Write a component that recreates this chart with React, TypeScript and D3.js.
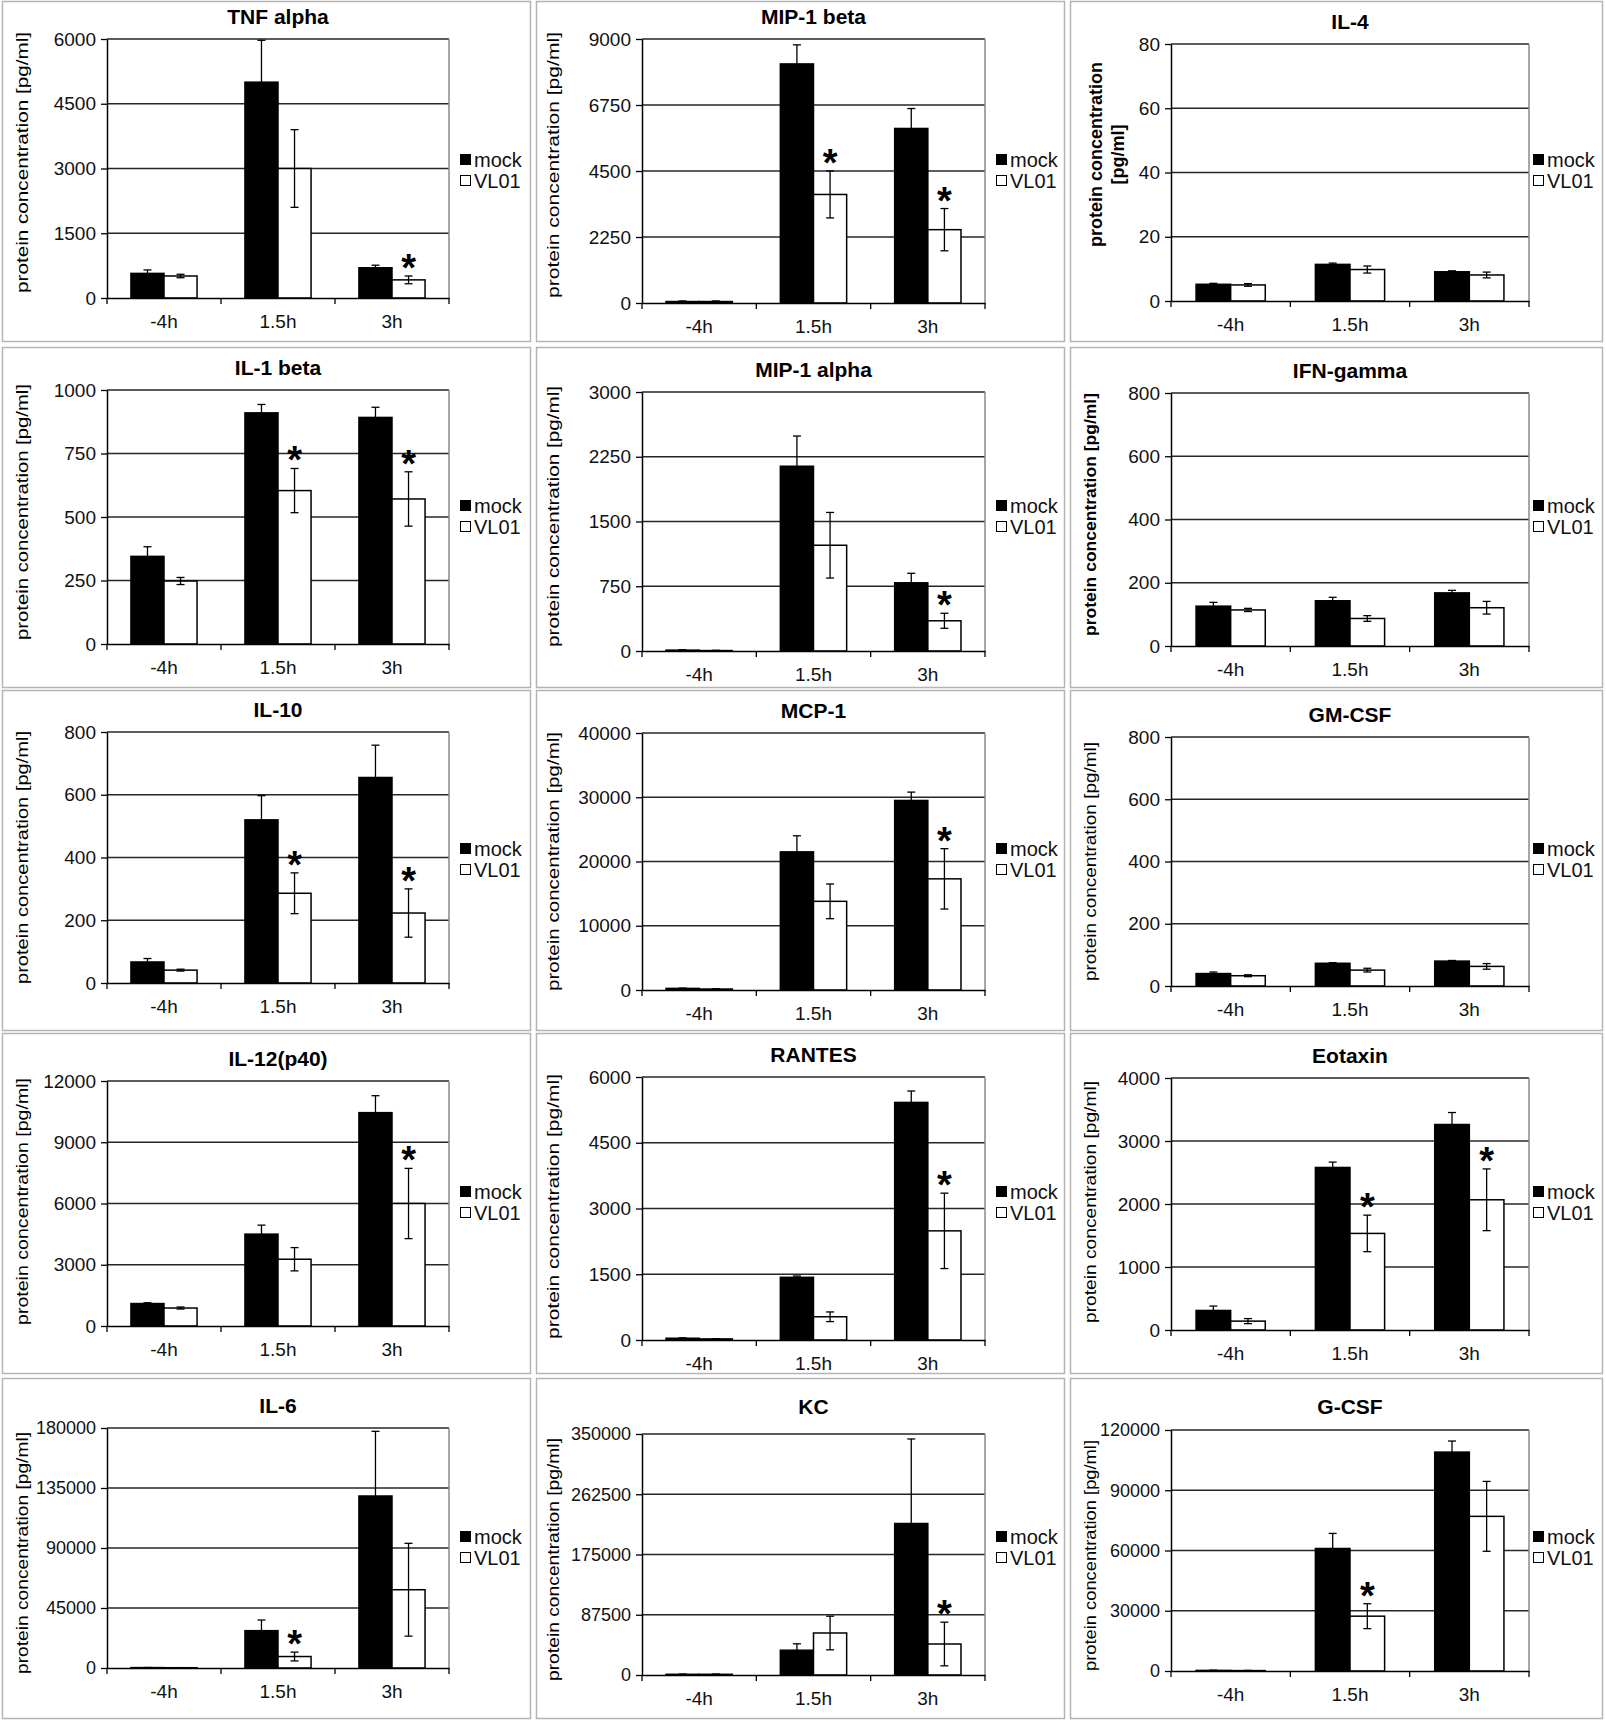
import React, { useEffect, useRef } from "react";
import * as d3 from "d3";

// chart data
const categories = ["-4h", "1.5h", "3h"];
const seriesNames = ["mock", "VL01"];

const panelTitles = [
  "TNF alpha", "MIP-1 beta", "IL-4",
  "IL-1 beta", "MIP-1 alpha", "IFN-gamma",
  "IL-10", "MCP-1", "GM-CSF",
  "IL-12(p40)", "RANTES", "Eotaxin",
  "IL-6", "KC", "G-CSF",
];
const yMaxima = [6000, 9000, 80, 1000, 3000, 800, 800, 40000, 800, 12000, 6000, 4000, 180000, 350000, 120000];
const yTickSteps = [1500, 2250, 20, 250, 750, 200, 200, 10000, 200, 3000, 1500, 1000, 45000, 87500, 30000];

const mockValues = [
  [570, 5000, 700], [50, 8150, 5950], [5.2, 11.4, 9.1],
  [345, 910, 892], [10, 2140, 790], [126, 143, 168],
  [67, 520, 655], [250, 21500, 29500], [40, 73, 80],
  [1100, 4500, 10450], [40, 1430, 5420], [310, 2580, 3262],
  [300, 28000, 129000], [1000, 36000, 220000], [300, 61000, 109000],
];
const mockErrors = [
  [80, 970, 60], [20, 650, 680], [0.3, 0.4, 0.3],
  [38, 33, 40], [5, 350, 110], [12, 11, 8],
  [11, 77, 103], [50, 2500, 1300], [5, 2, 2],
  [40, 440, 830], [10, 30, 260], [70, 85, 190],
  [100, 8000, 48500], [300, 9300, 122800], [100, 7500, 5500],
];
const vl01Values = [
  [510, 3000, 420], [50, 3700, 2500], [5.0, 9.8, 8.1],
  [248, 604, 571], [5, 1225, 350], [114, 87, 121],
  [41, 286, 223], [150, 13800, 17300], [33, 51, 63],
  [880, 3270, 6000], [25, 530, 2490], [141, 1533, 2067],
  [200, 8600, 58700], [1000, 61000, 45000], [200, 27300, 77000],
];
const vl01Errors = [
  [40, 900, 90], [20, 800, 720], [0.4, 1.1, 0.9],
  [14, 87, 107], [3, 380, 87], [5, 9, 20],
  [3, 65, 77], [30, 2700, 4700], [3, 6, 9],
  [50, 570, 1720], [5, 110, 860], [40, 290, 490],
  [100, 3300, 34800], [300, 24400, 31700], [100, 6200, 17400],
];
// categories whose VL01 bar carries a "*"
const significant = [
  ["3h"], ["1.5h", "3h"], [],
  ["1.5h", "3h"], ["3h"], [],
  ["1.5h", "3h"], ["3h"], [],
  ["3h"], ["3h"], ["1.5h", "3h"],
  ["1.5h"], ["3h"], ["1.5h"],
];

const W = 1606;
const H = 1725;
const FONT = "'Liberation Sans', Arial, sans-serif";

// layout (panel grid, plot area inside each panel)
const colX = [2, 536, 1070];
const colW = [528, 528, 532];
const rowY = [1, 347, 690, 1033, 1378];
const panelH = 340;
const plotLeft = [105, 106, 101];
const plotRight = [447, 449, 459];
const legendX = [458, 460, 463];
const yLabelX = [20, 17, 20];
const plotTops = [38, 38, 43, 43, 45, 46, 42, 43, 47, 48, 44, 45, 50, 56, 52];
const plotBottoms = [297, 302, 300, 297, 304, 299, 293, 300, 296, 293, 307, 297, 290, 297, 293];
const rowLabelShift = [-6, -5, 0, -2, 5];

export default function App() {
  const svgRef = useRef<SVGSVGElement>(null);

  useEffect(() => {
    document.body.style.margin = "0";
    if (!svgRef.current) return;
    const svg = d3.select(svgRef.current);
    svg.selectAll("*").remove();

    svg.append("rect").attr("width", W).attr("height", H).attr("fill", "#fff");

    panelTitles.forEach((title, i) => {
      const col = i % 3;
      const row = Math.floor(i / 3);
      const plotTop = plotTops[i];
      const plotBottom = plotBottoms[i];
      const g = svg
        .append("g")
        .attr("transform", `translate(${colX[col]},${rowY[row]})`)
        .style("font-family", FONT);

      g.append("rect")
        .attr("x", 0.5)
        .attr("y", 0.5)
        .attr("width", colW[col])
        .attr("height", panelH)
        .attr("fill", "none")
        .attr("stroke", "#b4b4b4")
        .attr("stroke-width", 1.5);

      const left = plotLeft[col];
      const right = plotRight[col];

      const x = d3.scaleBand().domain(categories).range([left, right]);
      const band = x.bandwidth();
      const xs = d3
        .scaleBand()
        .domain(seriesNames)
        .range([band * 0.21, band * 0.79]);
      const y = d3
        .scaleLinear()
        .domain([0, yMaxima[i]])
        .range([plotBottom, plotTop]);
      const ticks = d3.range(0, yMaxima[i] + yTickSteps[i] / 2, yTickSteps[i]);

      // title
      g.append("text")
        .attr("x", (left + right) / 2)
        .attr("y", Math.min(plotTop - 15, 36))
        .attr("text-anchor", "middle")
        .style("font-size", "21px")
        .style("font-weight", "bold")
        .text(title);

      // gridlines
      g.selectAll(".grid")
        .data(ticks.slice(1))
        .enter()
        .append("line")
        .attr("x1", left)
        .attr("x2", right)
        .attr("y1", (d) => y(d))
        .attr("y2", (d) => y(d))
        .attr("stroke", "#262626")
        .attr("stroke-width", 1.4);

      // plot area border (right side)
      g.append("line")
        .attr("x1", right)
        .attr("x2", right)
        .attr("y1", plotTop)
        .attr("y2", plotBottom)
        .attr("stroke", "#8a8a8a")
        .attr("stroke-width", 1.5);

      // bars
      const rows = categories
        .map((c, k) => [
          { cat: c, s: "mock", v: mockValues[i][k], e: mockErrors[i][k] },
          { cat: c, s: "VL01", v: vl01Values[i][k], e: vl01Errors[i][k] },
        ])
        .flat();

      g.selectAll(".bar")
        .data(rows)
        .enter()
        .append("rect")
        .attr("x", (d) => (x(d.cat) as number) + (xs(d.s) as number))
        .attr("width", xs.bandwidth())
        .attr("y", (d) => y(d.v))
        .attr("height", (d) => plotBottom - y(d.v))
        .attr("fill", (d) => (d.s === "mock" ? "#000" : "#fff"))
        .attr("stroke", "#000")
        .attr("stroke-width", 1.5);

      // error bars
      const eb = g
        .selectAll(".err")
        .data(rows)
        .enter()
        .append("g")
        .attr(
          "transform",
          (d) =>
            `translate(${(x(d.cat) as number) + (xs(d.s) as number) + xs.bandwidth() / 2},0)`,
        );
      eb.append("line")
        .attr("y1", (d) => y(d.v + d.e))
        .attr("y2", (d) => y(Math.max(0, d.v - d.e)))
        .attr("stroke", "#000")
        .attr("stroke-width", 1.3);
      eb.append("line")
        .attr("x1", -4)
        .attr("x2", 4)
        .attr("y1", (d) => y(d.v + d.e))
        .attr("y2", (d) => y(d.v + d.e))
        .attr("stroke", "#000")
        .attr("stroke-width", 1.3);
      eb.append("line")
        .attr("x1", -4)
        .attr("x2", 4)
        .attr("y1", (d) => y(Math.max(0, d.v - d.e)))
        .attr("y2", (d) => y(Math.max(0, d.v - d.e)))
        .attr("stroke", "#000")
        .attr("stroke-width", 1.3);

      // y axis
      const ya = g
        .append("g")
        .attr("transform", `translate(${left},0)`)
        .call(
          d3
            .axisLeft(y)
            .tickValues(ticks)
            .tickSize(6)
            .tickSizeOuter(0)
            .tickPadding(5)
            .tickFormat(d3.format("d")),
        );
      ya.select(".domain").attr("stroke", "#000").attr("stroke-width", 1.5);
      ya.selectAll(".tick line").attr("stroke", "#000").attr("stroke-width", 1.3);
      ya.selectAll("text")
        .style("font-size", yMaxima[i] >= 100000 ? "18px" : "19px")
        .style("font-family", FONT)
        .attr("fill", "#111");

      // x axis
      const xa = g
        .append("g")
        .attr("transform", `translate(0,${plotBottom})`)
        .call(d3.axisBottom(x).tickSize(0).tickSizeOuter(0).tickPadding(17));
      xa.select(".domain").attr("stroke", "#000").attr("stroke-width", 1.5);
      xa.selectAll("text")
        .style("font-size", "19px")
        .style("font-family", FONT)
        .attr("fill", "#111");
      xa.selectAll(".sep")
        .data([...categories.map((c) => x(c) as number), right])
        .enter()
        .append("line")
        .attr("x1", (d) => d)
        .attr("x2", (d) => d)
        .attr("y1", 0)
        .attr("y2", 6)
        .attr("stroke", "#000")
        .attr("stroke-width", 1.3);

      // y label
      const midY = (plotTop + plotBottom) / 2;
      const plotH = plotBottom - plotTop;
      if (title === "IL-4") {
        const lab = g
          .append("text")
          .attr("transform", `translate(32,${midY - 18}) rotate(-90)`)
          .attr("text-anchor", "middle")
          .style("font-size", "18px")
          .style("font-weight", "bold");
        lab.append("tspan").attr("x", 0).attr("y", 0).text("protein concentration");
        lab.append("tspan").attr("x", 0).attr("y", 22).text("[pg/ml]");
      } else {
        g.append("text")
          .attr(
            "transform",
            `translate(${yLabelX[col]},${midY + rowLabelShift[row]}) rotate(-90)`,
          )
          .attr("text-anchor", "middle")
          .attr("dy", "0.35em")
          .attr("textLength", col === 2 ? plotH - 10 : plotH + 2)
          .attr("lengthAdjust", "spacingAndGlyphs")
          .style("font-size", "17px")
          .style("font-weight", title === "IFN-gamma" ? "bold" : "normal")
          .text("protein concentration [pg/ml]");
      }

      // legend
      const lg = g
        .append("g")
        .attr("transform", `translate(${legendX[col]},${panelH / 2 - 1})`);
      seriesNames.forEach((s, k) => {
        const cy = k === 0 ? -10.5 : 10.5;
        lg.append("rect")
          .attr("x", 0.5)
          .attr("y", cy - 5)
          .attr("width", 10)
          .attr("height", 10)
          .attr("fill", s === "mock" ? "#000" : "#fff")
          .attr("stroke", "#000")
          .attr("stroke-width", 1);
        lg.append("text")
          .attr("x", 14)
          .attr("y", cy)
          .attr("dy", "0.35em")
          .style("font-size", "20px")
          .attr("fill", "#111")
          .text(s);
      });

      // significance stars
      g.selectAll(".star")
        .data(significant[i])
        .enter()
        .append("text")
        .attr("x", (c) => (x(c) as number) + (xs("VL01") as number) + xs.bandwidth() / 2)
        .attr("y", (c) => {
          const k = categories.indexOf(c);
          return y(vl01Values[i][k] + vl01Errors[i][k]) + 5;
        })
        .attr("text-anchor", "middle")
        .style("font-size", "38px")
        .style("font-weight", "bold")
        .text("*");
    });
  }, []);

  return <svg ref={svgRef} width={W} height={H} style={{ display: "block" }} />;
}
